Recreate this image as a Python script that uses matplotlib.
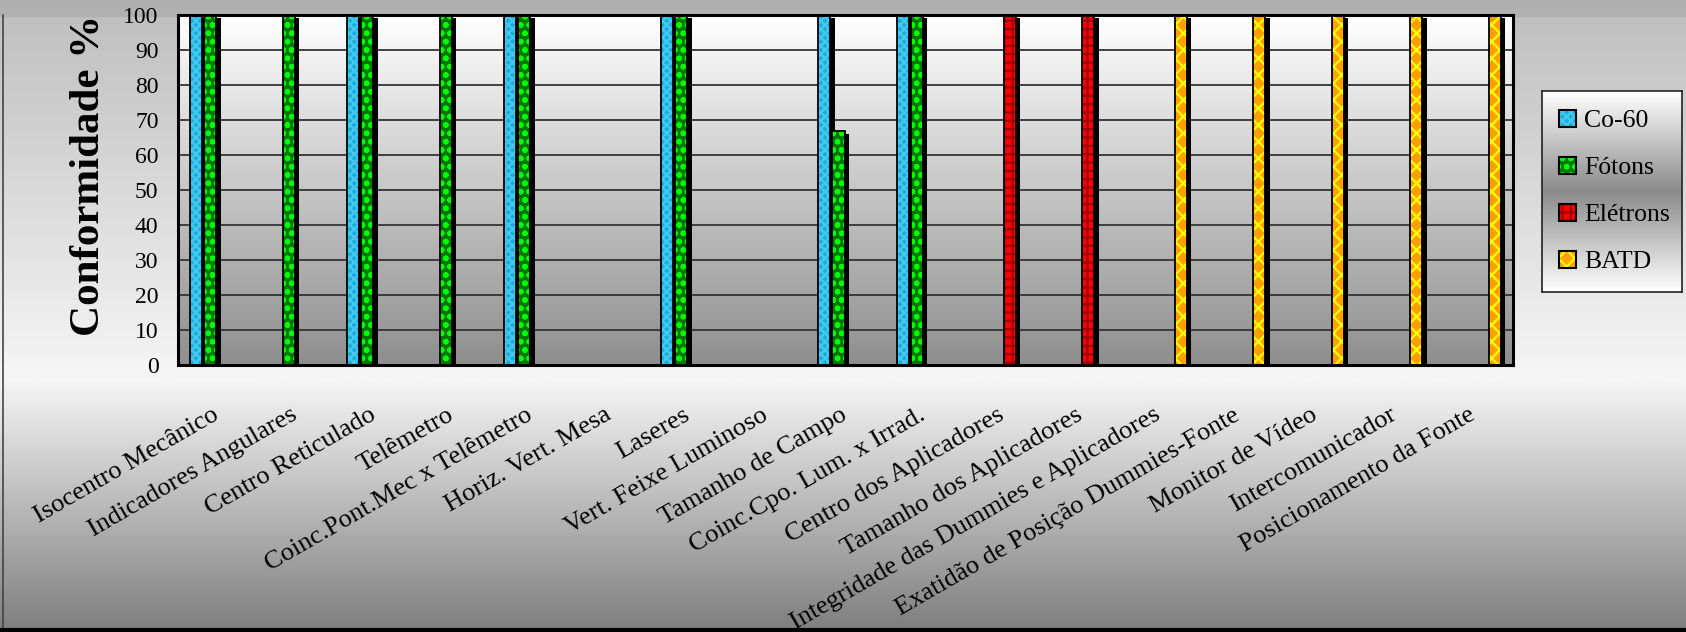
import matplotlib
matplotlib.use("Agg")
import matplotlib.pyplot as plt
import numpy as np
from matplotlib.colors import LinearSegmentedColormap
from matplotlib.patches import Patch
from matplotlib.lines import Line2D
import matplotlib.transforms as mtransforms

plt.rcParams['font.family'] = ['Liberation Serif', 'DejaVu Serif']
plt.rcParams['hatch.linewidth'] = 1.6

# Dados (conformidade em %)
categorias = [
    "Isocentro Mecânico", "Indicadores Angulares", "Centro Reticulado", "Telêmetro",
    "Coinc.Pont.Mec x Telêmetro", "Horiz. Vert. Mesa", "Laseres", "Vert. Feixe Luminoso",
    "Tamanho de Campo", "Coinc.Cpo. Lum. x Irrad.", "Centro dos Aplicadores",
    "Tamanho dos Aplicadores", "Integridade das Dummies e Aplicadores",
    "Exatidão de Posição Dummies-Fonte", "Monitor de Vídeo", "Intercomunicador",
    "Posicionamento da Fonte",
]
series = ["Co-60", "Fótons", "Elétrons", "BATD"]
co60 = [100, None, 100, None, 100, None, 100, None, 100, 100, None, None, None, None, None, None, None]
fotons = [100, 100, 100, 100, 100, None, 100, None, 67, 100, None, None, None, None, None, None, None]
eletrons = [None, None, None, None, None, None, None, None, None, None, 100, 100, None, None, None, None, None]
batd = [None, None, None, None, None, None, None, None, None, None, None, None, 100, 100, 100, 100, 100]
yticks = [0, 10, 20, 30, 40, 50, 60, 70, 80, 90, 100]

valores = [co60, fotons, eletrons, batd]
# estilo de cada serie: cor de fundo, cor da trama, trama
estilos = [
    ("#14b0dc", "#48c8ee", "xxxx"),
    ("#007800", "#00ff00", "oo"),
    ("#ff0000", "#a00000", "++"),
    ("#ffa000", "#ffff00", "xx"),
]
deslocs = [-0.27, -0.09, 0.09, 0.27]
largura = 0.155

W, H = 1686, 632
fig = plt.figure(figsize=(W / 100, H / 100), dpi=100)

# fundo da figura com degradê
bg = fig.add_axes([0, 0, 1, 1], zorder=-10)
cmap_bg = LinearSegmentedColormap.from_list(
    "bg", [(0, "#b0b0b0"), (0.024, "#b2b2b2"), (0.025, "#c0c0c0"), (0.6, "#f6f6f6"), (1.0, "#7e7e7e")])
bg.imshow(np.linspace(0, 1, 512).reshape(-1, 1), aspect="auto", cmap=cmap_bg, extent=[0, 1, 0, 1])
bg.set_axis_off()

ax = fig.add_axes([178 / W, 1 - 365 / H, (1513 - 178) / W, (365 - 15) / H])
x = np.arange(len(categorias))

cmap_ax = LinearSegmentedColormap.from_list("ax", ["#ffffff", "#8e8e8e"])
ax.imshow(np.linspace(0, 1, 256).reshape(-1, 1), aspect="auto", cmap=cmap_ax,
          extent=[-0.5, len(categorias) - 0.5, 0, 100], zorder=0)

for t in yticks[1:-1]:
    ax.axhline(t, color="#333333", lw=1.3, zorder=1)

for i, (vals, (face, hcol, hatch)) in enumerate(zip(valores, estilos)):
    v = np.array([np.nan if a is None else a for a in vals], dtype=float)
    xs = x + deslocs[i]
    # sombra
    ax.bar(xs + 0.055, v - 0.9, largura, color="black", linewidth=0, zorder=2 + 3 * i)
    ax.bar(xs, v, largura, color=face, edgecolor=hcol, hatch=hatch, linewidth=0, zorder=3 + 3 * i)
    ax.bar(xs, v, largura, fill=False, edgecolor="black", linewidth=1.3, zorder=4 + 3 * i)

ax.set_xlim(-0.5, len(categorias) - 0.5)
ax.set_ylim(0, 100)
ax.set_yticks(yticks)
ax.tick_params(axis="y", length=0, pad=14, labelsize=17)
ax.set_xticks(x)
ax.set_xticklabels(categorias, rotation=30, ha="right", va="top", rotation_mode="anchor", fontsize=19)
ax.tick_params(axis="x", length=0, pad=28)
desl = mtransforms.ScaledTranslation(-6 / 100, 0, fig.dpi_scale_trans)
for lbl in ax.get_xticklabels():
    lbl.set_transform(lbl.get_transform() + desl)
for s in ax.spines.values():
    s.set_linewidth(2.2)
    s.set_color("black")
    s.set_zorder(30)

fig.text(89 / W, 1 - 175 / H, "Conformidade %", rotation=90, ha="center", va="center",
         fontsize=31, fontweight="bold")

# legenda com fundo em degradê
axl = fig.add_axes([1542 / W, 1 - 292 / H, 140 / W, 201 / H])
cmap_leg = LinearSegmentedColormap.from_list("leg", ["#ffffff", "#8a8a8a", "#ffffff"])
axl.imshow(np.linspace(0, 1, 256).reshape(-1, 1), aspect="auto", cmap=cmap_leg, extent=[0, 1, 0, 1])
axl.set_xticks([])
axl.set_yticks([])
for s in axl.spines.values():
    s.set_linewidth(1.2)
    s.set_color("#222222")
handles = []
for face, hcol, hatch in estilos:
    handles.append((Patch(facecolor=face, edgecolor=hcol, hatch=hatch, linewidth=0),
                    Patch(fill=False, edgecolor="black", linewidth=1.5)))
axl.legend(handles, series, loc="center left", bbox_to_anchor=(0.12, 0.5), frameon=False,
           fontsize=18.5, handlelength=0.65, handleheight=0.65, handletextpad=0.35,
           labelspacing=0.95, borderpad=0, borderaxespad=0)

# bordas da figura
fig.add_artist(Line2D([0.0018, 0.0018], [0, 1 - 15 / H], color="#444444", lw=1.2))
fig.add_artist(Line2D([0, 1], [0.003, 0.003], color="black", lw=3))

fig.savefig("out.png", dpi=100)
